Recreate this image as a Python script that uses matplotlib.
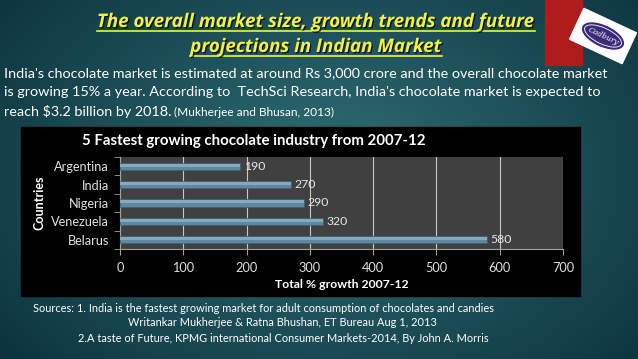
import matplotlib.pyplot as plt
import matplotlib.patheffects as pe
from matplotlib.patches import Rectangle, Ellipse
import numpy as np

countries = ['Argentina', 'India', 'Nigeria', 'Venezuela', 'Belarus']
growth = [190, 270, 290, 320, 580]
xticks = [0, 100, 200, 300, 400, 500, 600, 700]

title_lines = ['The overall market size, growth trends and future',
               'projections in Indian Market']
body_lines = ["India's chocolate market is estimated at around Rs 3,000 crore and the overall chocolate market",
              "is growing 15% a year. According to  TechSci Research, India's chocolate market is expected to",
              "reach $3.2 billion by 2018."]
body_cite = "(Mukherjee and Bhusan, 2013)"
chart_title = '5 Fastest growing chocolate industry from 2007-12'
sources = ['Sources: 1. India is the fastest growing market for adult consumption of chocolates and candies',
           'Writankar Mukherjee & Ratna Bhushan, ET Bureau Aug 1, 2013',
           '2.A taste of Future, KPMG international Consumer Markets-2014, By John A. Morris']

W, H = 638, 359
fig = plt.figure(figsize=(W / 100, H / 100), dpi=100)

# slide background: teal radial gradient
bg = fig.add_axes([0, 0, 1, 1], zorder=-10)
yy, xx = np.mgrid[0:H, 0:W]
r = np.sqrt(((xx - 330) / 420) ** 2 + ((yy - 170) / 300) ** 2)
r = np.clip(r, 0, 1)[..., None]
inner = np.array([0x30, 0x6e, 0x74]) / 255
outer = np.array([0x0c, 0x33, 0x3e]) / 255
bg.imshow(inner * (1 - r) + outer * r, aspect='auto', extent=[0, W, H, 0])
bg.set_xlim(0, W)
bg.set_ylim(H, 0)
bg.axis('off')

def px(x, y):
    return x / W, 1 - y / H

# red band and logo top right
fig.patches.append(Rectangle(px(545, 65), 37 / W, 65 / H, transform=fig.transFigure,
                             color='#b01c1c', zorder=1))
logo = fig.add_axes([568 / W, 1 - 68 / H, 70 / W, 64 / H], zorder=2)
logo.set_xlim(-35, 35)
logo.set_ylim(-32, 32)
logo.axis('off')
ang = -25
c, s = np.cos(np.radians(ang)), np.sin(np.radians(ang))
rw, rh = 58, 34
x0 = -(rw / 2 * c - rh / 2 * s)
y0 = -(rw / 2 * s + rh / 2 * c)
logo.add_patch(Rectangle((x0, y0), rw, rh, angle=ang, color='white'))
logo.add_patch(Ellipse((0, 0), 44, 20, angle=ang, color='#3b2a7a'))
logo.add_patch(Ellipse((0, 0), 40, 16, angle=ang, fill=False, ec='white', lw=0.6))
logo.text(0, 0, 'Cadbury', rotation=ang, color='white', fontsize=5.5, style='italic',
          ha='center', va='center', family='DejaVu Serif')

# title
shadow = [pe.withSimplePatchShadow(offset=(1, -1), shadow_rgbFace='black', alpha=0.7)]
title_texts = []
for i, line in enumerate(title_lines):
    t = fig.text(*px(316, 22 + 25 * i), line, ha='center', va='center', fontsize=13.5,
                 color='#f2f23a', weight='bold', style='italic', family='Open Sans',
                 path_effects=shadow)
    title_texts.append(t)

# body text
for i, line in enumerate(body_lines):
    t = fig.text(*px(4, 73 + 19 * i), line, ha='left', va='center', fontsize=10.35,
                 color='white', family='Lato')
fig.canvas.draw()
bb = t.get_window_extent()
fig.text(bb.x1 / W + 3 / W, 1 - 112 / H, body_cite, ha='left', va='center',
         fontsize=8.6, color='white', family='Lato')

# underline under the title lines
for t in title_texts:
    bb = t.get_window_extent()
    fig.add_artist(plt.Line2D([bb.x0 / W, bb.x1 / W], [(bb.y0 + 1) / H] * 2,
                              transform=fig.transFigure, color='#f2f23a', lw=1.2))

# black chart panel
fig.patches.append(Rectangle(px(21, 296), 559 / W, 169 / H, transform=fig.transFigure,
                             color='black', zorder=0))

ax = fig.add_axes([120 / W, 1 - 249 / H, 443 / W, 92 / H], zorder=3)
ax.set_facecolor('#404040')
pos = np.arange(len(countries))
ax.barh(pos, growth, height=0.4, color='#5f879d', edgecolor='#3e5f70', linewidth=0.5, zorder=3)
ax.barh(pos - 0.06, growth, height=0.16, color='#86aabd', linewidth=0, zorder=3)
for p, v in zip(pos, growth):
    ax.text(v + 6, p, str(v), va='center', ha='left', color='#e8e8e8', fontsize=8.8,
            family='Lato', zorder=4)
ax.set_xlim(0, 700)
ax.set_ylim(len(countries) - 0.5, -0.5)
ax.set_xticks(xticks)
ax.set_xticklabels([str(x) for x in xticks], color='#e0e0e0', fontsize=9.2, family='Lato')
ax.set_yticks(pos)
ax.set_yticklabels(countries, color='#e0e0e0', fontsize=9.2, family='Lato')
ax.set_yticks(np.arange(len(countries) + 1) - 0.5, minor=True)
ax.tick_params(axis='y', which='major', length=0, pad=8)
ax.tick_params(axis='y', which='minor', length=4, color='#a0a0a0', direction='out')
ax.tick_params(axis='x', length=4, color='#a0a0a0', pad=5)
ax.grid(axis='x', color='#c8c8c8', linewidth=0.8, zorder=1)
ax.set_axisbelow(True)
for side in ['top', 'right']:
    ax.spines[side].set_visible(False)
ax.spines['left'].set_color('#a0a0a0')
ax.spines['bottom'].set_color('#a0a0a0')
ax.set_xlabel('Total % growth 2007-12', color='white', fontsize=8.8, weight='bold',
              family='Lato', labelpad=4)

fig.text(*px(82, 141), chart_title, ha='left', va='center', color='white', fontsize=10.8,
         weight='bold', family='Lato')
fig.text(*px(40, 203), 'Countries', rotation=90, ha='center', va='center', color='white',
         fontsize=9, weight='bold', family='Lato')

# sources
fig.text(*px(33, 308), sources[0], ha='left', va='center', color='white', fontsize=7.9, family='Lato')
fig.text(*px(282, 323), sources[1], ha='center', va='center', color='white', fontsize=7.9, family='Lato')
fig.text(*px(283, 338), sources[2], ha='center', va='center', color='white', fontsize=7.9, family='Lato')

fig.savefig('out.png', dpi=100)
